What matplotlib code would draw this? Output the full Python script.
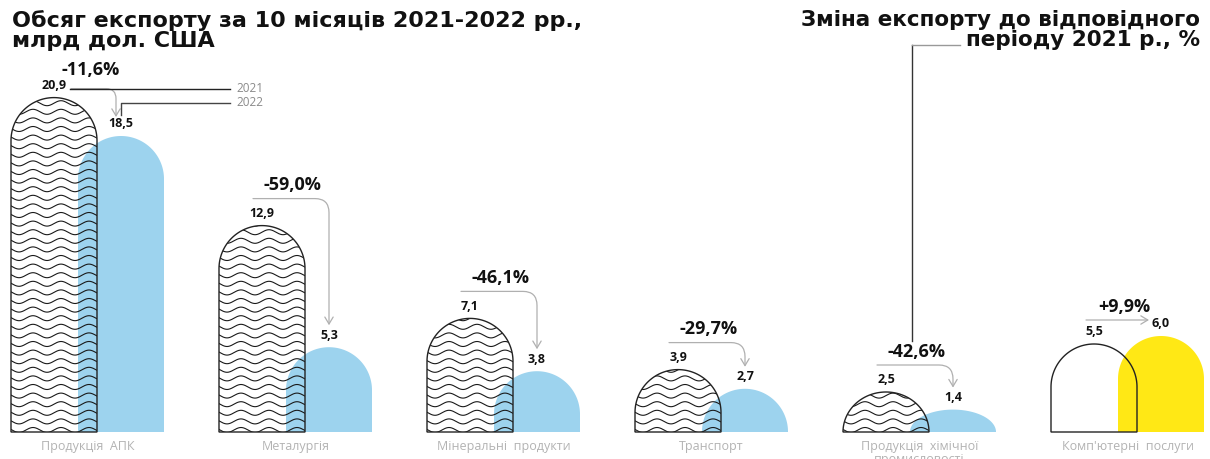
import numpy as np
import matplotlib.pyplot as plt
from matplotlib.path import Path
from matplotlib.patches import PathPatch, FancyArrowPatch

# export volume, bn USD, 10 months
categories = ['Продукція  АПК', 'Металургія', 'Мінеральні  продукти', 'Транспорт',
              'Продукція  хімічної\nпромисловості', "Комп'ютерні  послуги"]
exports_2021 = [20.9, 12.9, 7.1, 3.9, 2.5, 5.5]
exports_2022 = [18.5, 5.3, 3.8, 2.7, 1.4, 6.0]
change_pct = [-11.6, -59.0, -46.1, -29.7, -42.6, 9.9]
years = ['2021', '2022']

W, H = 1210, 459
PX = 16.0          # pixels per 1 bn USD
BASE = 27          # baseline height above bottom edge, px
X0, STEP, DX, BW = 54, 208, 67, 86

BLUE = '#9dd3ee'
YELLOW = '#ffe815'
GREY_TXT = '#b3b3b3'
ARROW = '#b0b0b0'

LABEL_FONT = ['Open Sans', 'DejaVu Sans']
TITLE_FONT = ['DejaVu Sans']


def v(px):
    # vertical pixel distance -> data units
    return px / PX


def fmt(x):
    return ('%.1f' % x).replace('.', ',')


def dome(xc, h, w):
    r = w / 2
    ry = v(r)
    t = np.linspace(np.pi, 0, 80)
    if h >= ry:
        y0, ay = h - ry, ry
    else:
        y0, ay = 0, h
    xs = np.concatenate([[xc - r], xc + r * np.cos(t), [xc + r]])
    ys = np.concatenate([[0], y0 + ay * np.sin(t), [0]])
    verts = list(zip(xs, ys)) + [(xc - r, 0)]
    codes = [Path.MOVETO] + [Path.LINETO] * (len(verts) - 2) + [Path.CLOSEPOLY]
    return Path(verts, codes)


def waves(ax, xc, h, w, patch):
    xs = np.linspace(xc - w / 2 - 2, xc + w / 2 + 2, 300)
    n = int(h * PX / 8.6) + 2
    for k in range(n):
        ys = v(2 + k * 8.6) + v(2.5) * np.sin(2 * np.pi * (xs - xc) / 28.0)
        ln, = ax.plot(xs, ys, color='#1a1a1a', lw=0.8, zorder=2)
        ln.set_clip_path(patch)


fig = plt.figure(figsize=(W / 100, H / 100), dpi=100)
ax = fig.add_axes([0, 0, 1, 1])
ax.set_xlim(0, W)
ax.set_ylim(-BASE / PX, (H - BASE) / PX)
ax.axis('off')

for i, (cat, a, b, pct) in enumerate(zip(categories, exports_2021, exports_2022, change_pct)):
    x1 = X0 + STEP * i
    x2 = x1 + DX
    mid = (x1 + x2) / 2
    grows = pct > 0

    # 2022 bar (behind)
    ax.add_patch(PathPatch(dome(x2, b, BW), facecolor=YELLOW if grows else BLUE,
                           edgecolor='none', zorder=1))
    # 2021 bar (outline, wave hatch on top)
    p21 = PathPatch(dome(x1, a, BW), facecolor='none', edgecolor='#222222',
                    lw=1.0, zorder=3)
    ax.add_patch(p21)
    if not grows:
        waves(ax, x1, a, BW, p21)

    # value labels
    for x, val in ((x1, a), (x2, b)):
        ax.annotate(fmt(val), (x, val), xytext=(0, 4), textcoords='offset points',
                    ha='center', va='bottom', fontsize=9, fontweight='bold',
                    family=LABEL_FONT, color='#111111')

    # category label
    ax.annotate(cat, (mid, 0), xytext=(0, -6), textcoords='offset points',
                ha='center', va='top', fontsize=9, family=LABEL_FONT,
                color=GREY_TXT, linespacing=0.95)

    pct_txt = ('+' if grows else '') + fmt(pct) + '%'
    arrow_kw = dict(color=ARROW, lw=0.9, mutation_scale=10, shrinkA=0, shrinkB=0,
                    zorder=4)

    if i == 0:
        # legend lines from the first pair of labels
        ly = a + v(9)
        ax.annotate('', (x2 - 5, b + v(19)), xytext=(x1 + 17, ly),
                    arrowprops=dict(arrowstyle='->,head_length=0.5,head_width=0.3',
                                    connectionstyle='angle,angleA=0,angleB=90,rad=10',
                                    color=ARROW, lw=0.9, shrinkA=0, shrinkB=0,
                                    mutation_scale=10))
        ax.plot([x1 + 16, 230], [ly, ly], color='#222222', lw=1.0, zorder=4)
        ly2 = ly - v(14)
        ax.plot([x2, x2, 230], [b + v(21), ly2, ly2], color='#444444', lw=1.0, zorder=4)
        ax.text(236, ly, years[0], ha='left', va='center', fontsize=8.5,
                family=LABEL_FONT, color='#8a8a8a')
        ax.text(236, ly2, years[1], ha='left', va='center', fontsize=8.5,
                family=LABEL_FONT, color='#8a8a8a')
        ax.annotate(pct_txt, (mid + 3, ly), xytext=(0, 7), textcoords='offset points',
                    ha='center', va='bottom', fontsize=13, fontweight='bold',
                    family=LABEL_FONT, color='#111111')
        continue

    if grows:
        ly = a + v(24)
        ax.add_patch(FancyArrowPatch((x1 - 8, ly), (x2 - 12, ly),
                                     arrowstyle='->,head_length=0.5,head_width=0.3',
                                     **arrow_kw))
    else:
        ly = a + v(27)
        ax.add_patch(FancyArrowPatch((x1 - 9, ly), (x2, b + v(22)),
                                     arrowstyle='->,head_length=0.5,head_width=0.3',
                                     connectionstyle='angle,angleA=0,angleB=90,rad=14',
                                     **arrow_kw))
    ax.annotate(pct_txt, (mid - 3, ly), xytext=(0, 3), textcoords='offset points',
                ha='center', va='bottom', fontsize=13, fontweight='bold',
                family=LABEL_FONT, color='#111111')

    if i == 4:
        # leader from the right-hand heading down to this change label
        top = (H - BASE - 45) / PX
        lx = mid - 8
        ax.plot([lx, lx], [ly + v(24), top], color='#333333', lw=1.0, zorder=4)
        ax.plot([lx, lx + 48], [top, top], color='#999999', lw=1.0, zorder=4)

fig.text(12 / W, 1 - 10 / H, 'Обсяг експорту за 10 місяців 2021-2022 рр.,\nмлрд дол. США',
         ha='left', va='top', fontsize=16, fontweight='bold', family=TITLE_FONT,
         color='#111111', linespacing=0.98)
fig.text(1200 / W, 1 - 10 / H, 'Зміна експорту до відповідного\nперіоду 2021 р., %',
         ha='right', va='top', fontsize=15.5, fontweight='bold', family=TITLE_FONT,
         color='#111111', linespacing=1.0, multialignment='right')

fig.savefig('out.png', dpi=100, facecolor='white')
